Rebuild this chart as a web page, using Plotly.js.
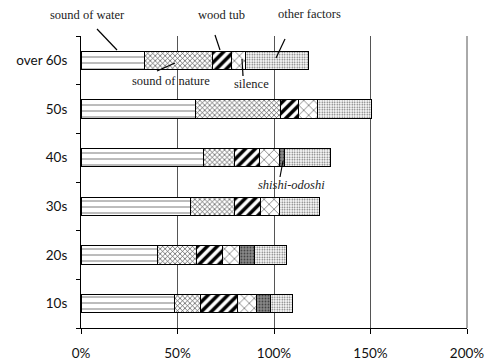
<!DOCTYPE html>
<html>
<head>
<meta charset="utf-8">
<script src="https://cdn.plot.ly/plotly-3.0.1.min.js"></script>
<style>html,body{margin:0;padding:0;background:#fff;}#chart{width:485px;height:363px;}</style>
</head>
<body>
<div id="chart"></div>
<script>
var ageGroups = ['10s', '20s', '30s', '40s', '50s', 'over 60s'];
var soundOfWater  = [48.5, 39.5, 56.5, 63.6, 59.1, 32.8];
var soundOfNature = [13.3, 20.1, 23.1, 15.8, 44.4, 35.1];
var woodTub       = [19.4, 13.6, 13.3, 13.3, 9.3, 10.0];
var silence       = [9.8, 9.0, 10.2, 10.4, 9.8, 7.4];
var shishiOdoshi  = [7.3, 7.6, 0, 2.2, 0, 0];
var otherFactors  = [11.5, 16.8, 20.4, 23.9, 27.7, 32.7];
var xTickVals = [0, 50, 100, 150, 200];
var xTickText = ['0%', '50%', '100%', '150%', '200%'];

var series = [
  {name: 'sound of water', vals: soundOfWater, pat: {shape: '-', size: 6, solidity: 0.12, fgcolor: '#444', bgcolor: '#fff'}},
  {name: 'sound of nature', vals: soundOfNature, pat: {shape: 'x', size: 3.5, solidity: 0.35, fgcolor: '#444', bgcolor: '#fff'}},
  {name: 'wood tub', vals: woodTub, pat: {shape: '/', size: 7, solidity: 0.5, fgcolor: '#000', bgcolor: '#fff'}},
  {name: 'silence', vals: silence, pat: {shape: 'x', size: 7, solidity: 0.15, fgcolor: '#333', bgcolor: '#fff'}},
  {name: 'shishi-odoshi', vals: shishiOdoshi, pat: {shape: '.', size: 3, solidity: 0.3, fgcolor: '#444', bgcolor: '#888'}},
  {name: 'other factors', vals: otherFactors, pat: {shape: '.', size: 2.5, solidity: 0.3, fgcolor: '#666', bgcolor: '#fff'}}
];

var traces = series.map(function (s) {
  return {
    type: 'bar', orientation: 'h', name: s.name,
    x: s.vals, y: ageGroups,
    marker: {color: '#fff', pattern: s.pat, line: {color: '#000', width: 1}},
    hoverinfo: 'skip'
  };
});

// pixel -> paper helpers (plot area: x 81..467, y 36..328)
function px(x) { return (x - 81) / 386; }
function py(y) { return (328 - y) / 292; }

var labelFont = {family: '"Liberation Serif", "Times New Roman", serif', size: 12.5, color: '#222'};
var labels = [
  {t: 'sound of water', x: 87, y: 15},
  {t: 'wood tub', x: 221, y: 15},
  {t: 'other factors', x: 309, y: 14},
  {t: 'sound of nature', x: 171, y: 81},
  {t: 'silence', x: 251, y: 84},
  {t: '<i>shishi-odoshi</i>', x: 291, y: 185}
];
var annotations = labels.map(function (l) {
  return {text: l.t, xref: 'paper', yref: 'paper', x: px(l.x), y: py(l.y),
    xanchor: 'center', yanchor: 'middle', showarrow: false, font: labelFont};
});
var leaders = [
  [97, 29, 117, 50],
  [215, 35, 220, 50],
  [285, 39, 276, 58],
  [157, 71, 175, 63],
  [243, 76, 242, 59],
  [283, 161, 280, 177]
];
var shapes = leaders.map(function (s) {
  return {type: 'line', xref: 'paper', yref: 'paper', x0: px(s[0]), y0: py(s[1]), x1: px(s[2]), y1: py(s[3]),
    line: {color: '#000', width: 1.2}};
});
// right-edge gridline at 200%
shapes.push({type: 'line', xref: 'paper', yref: 'paper', x0: 1, x1: 1, y0: 0, y1: 1,
  line: {color: '#555', width: 1}, layer: 'below'});

var layout = {
  width: 485, height: 363,
  margin: {l: 81, r: 18, t: 36, b: 35},
  paper_bgcolor: '#fff', plot_bgcolor: '#fff',
  barmode: 'stack', bargap: 0.62,
  showlegend: false,
  font: {family: 'Lato', size: 13, color: '#222'},
  xaxis: {
    range: [0, 200], tickvals: xTickVals, ticktext: xTickText,
    showgrid: true, gridcolor: '#555', gridwidth: 1, zeroline: false,
    showline: true, linecolor: '#000', linewidth: 1,
    ticks: 'outside', ticklen: 5, tickcolor: '#000', ticklabelstandoff: 8,
    tickfont: {family: 'Lato', size: 13.5, color: '#111'}
  },
  yaxis: {
    type: 'category', categoryorder: 'array', categoryarray: ageGroups,
    range: [-0.5, 5.5], showgrid: false, zeroline: false,
    showline: true, linecolor: '#000', linewidth: 1,
    ticks: 'outside', tickson: 'boundaries', ticklen: 4, tickcolor: '#000',
    ticklabelstandoff: 10,
    tickfont: {family: 'Lato', size: 13.5, color: '#111'}
  },
  annotations: annotations,
  shapes: shapes
};

Plotly.newPlot('chart', traces, layout, {staticPlot: true, displayModeBar: false});
</script>
</body>
</html>
